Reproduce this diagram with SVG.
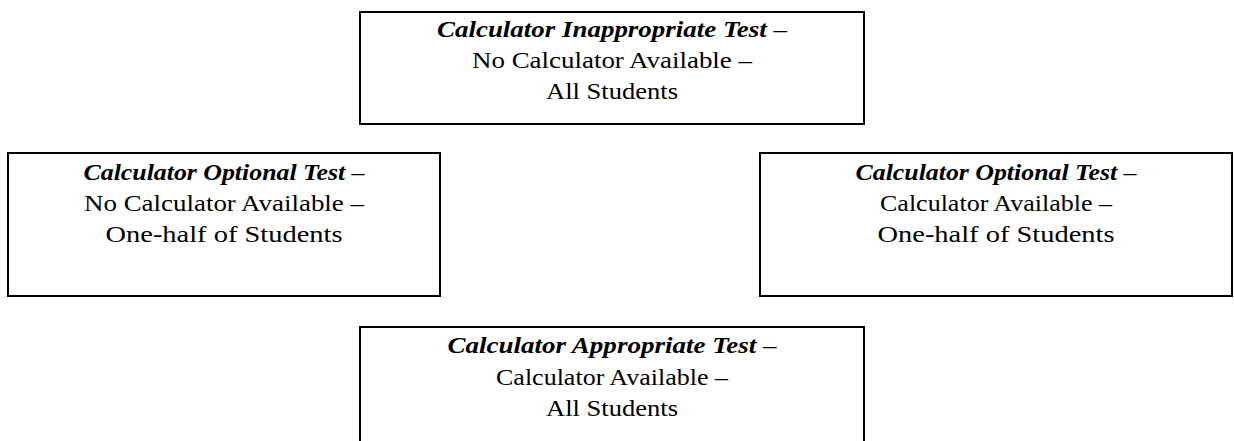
<svg xmlns="http://www.w3.org/2000/svg" width="1234" height="441" viewBox="0 0 1234 441">
<style>
.box{fill:#fff;stroke:#000;stroke-width:2}
text{font-family:'Liberation Serif','DejaVu Serif',serif;font-size:24px;fill:#000;text-anchor:middle}
.b{font-weight:bold;font-style:italic}
</style>
<rect width="1234" height="441" fill="#fff"/>
<g id="connectors"></g>
<g id="top">
<rect class="box" x="360" y="12" width="504" height="112"/>
<text x="612" y="37" textLength="350" lengthAdjust="spacingAndGlyphs"><tspan class="b">Calculator Inappropriate Test</tspan> –</text>
<text x="612" y="68" textLength="280" lengthAdjust="spacingAndGlyphs">No Calculator Available –</text>
<text x="612" y="99" textLength="132" lengthAdjust="spacingAndGlyphs">All Students</text>
</g>
<g id="left">
<rect class="box" x="8" y="153" width="432" height="143"/>
<text x="224" y="180" textLength="281" lengthAdjust="spacingAndGlyphs"><tspan class="b">Calculator Optional Test</tspan> –</text>
<text x="224" y="211" textLength="280" lengthAdjust="spacingAndGlyphs">No Calculator Available –</text>
<text x="224" y="242" textLength="237" lengthAdjust="spacingAndGlyphs">One-half of Students</text>
</g>
<g id="right">
<rect class="box" x="760" y="153" width="472" height="143"/>
<text x="996" y="180" textLength="281" lengthAdjust="spacingAndGlyphs"><tspan class="b">Calculator Optional Test</tspan> –</text>
<text x="996" y="211" textLength="232" lengthAdjust="spacingAndGlyphs">Calculator Available –</text>
<text x="996" y="242" textLength="237" lengthAdjust="spacingAndGlyphs">One-half of Students</text>
</g>
<g id="bottom">
<rect class="box" x="360" y="327" width="504" height="130"/>
<text x="612" y="353" textLength="329" lengthAdjust="spacingAndGlyphs"><tspan class="b">Calculator Appropriate Test</tspan> –</text>
<text x="612" y="385" textLength="232" lengthAdjust="spacingAndGlyphs">Calculator Available –</text>
<text x="612" y="416" textLength="132" lengthAdjust="spacingAndGlyphs">All Students</text>
</g>
</svg>
